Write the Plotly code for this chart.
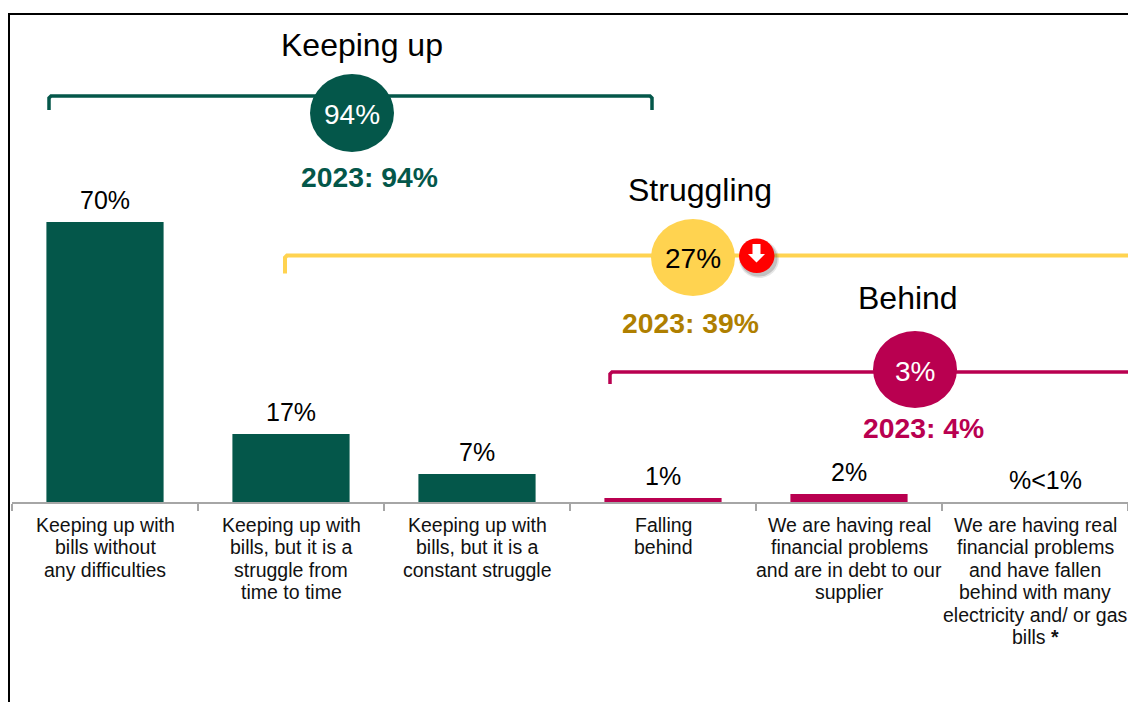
import plotly.graph_objects as go

W, H = 1128, 702
LEFT, BASE = 12, 502
FONT = "Liberation Sans"
GREEN, GOLD, MAGENTA = "#04574A", "#FFD350", "#B90050"
GOLD_TEXT = "#AF7F00"
GREY = "#A6A6A6"

categories = [
    "Keeping up with<br>bills without<br>any difficulties",
    "Keeping up with<br>bills, but it is a<br>struggle from<br>time to time",
    "Keeping up with<br>bills, but it is a<br>constant struggle",
    "Falling<br>behind",
    "We are having real<br>financial problems<br>and are in debt to our<br>supplier",
    "We are having real<br>financial problems<br>and have fallen<br>behind with many<br>electricity and/ or gas<br>bills <b>*</b>",
]
values = [70, 17, 7, 1, 2, 0]
value_labels = ["70%", "17%", "7%", "1%", "2%", "%<1%"]
bar_colors = [GREEN, GREEN, GREEN, MAGENTA, MAGENTA, MAGENTA]

group_names = ["Keeping up", "Struggling", "Behind"]
group_totals = ["94%", "27%", "3%"]
group_previous = ["2023: 94%", "2023: 39%", "2023: 4%"]


def px(x):
    return (x - LEFT) / (W - LEFT)


def py(y):
    return (BASE - y) / BASE


def note(text, x, y, size, color="black", bold=False):
    return dict(
        text=f"<b>{text}</b>" if bold else text,
        x=px(x), y=py(y), xref="paper", yref="paper",
        xanchor="center", yanchor="middle", showarrow=False,
        font=dict(family=FONT, size=size, color=color),
    )


def path(points, color, width):
    d = "M" + " L".join(f"{px(x)},{py(y)}" for x, y in points)
    return dict(type="path", path=d, xref="paper", yref="paper",
                line=dict(color=color, width=width))


def ellipse(x0, y0, x1, y1, color, opacity=1):
    return dict(type="circle", xref="paper", yref="paper",
                x0=px(x0), x1=px(x1), y0=py(y0), y1=py(y1),
                fillcolor=color, opacity=opacity, line=dict(width=0))


def bracket(x0, x1, y, drop, color, width, close_right=True):
    pts = [(x0, y + drop), (x0, y + 2), (x0 + 2, y), (x1 - 2 if close_right else x1, y)]
    if close_right:
        pts += [(x1, y + 2), (x1, y + drop)]
    return path(pts, color, width)


fig = go.Figure(go.Bar(
    x=list(range(len(categories))), y=values,
    marker=dict(color=bar_colors, line=dict(width=0)),
    width=0.63, hoverinfo="skip",
))

shapes = [
    path([(9, H), (9, 14), (W, 14)], "black", 2),
    bracket(49, 652, 96, 14, GREEN, 3.5),
    bracket(285, W, 255.5, 18, GOLD, 4, close_right=False),
    bracket(610, W, 372, 12, MAGENTA, 3.5, close_right=False),
    ellipse(310, 74, 394, 152, GREEN),
    ellipse(651, 219, 735, 296, GOLD),
    ellipse(873, 331, 957, 408, MAGENTA),
    # down-arrow badge with a soft drop shadow
    ellipse(739, 240, 779, 278, "#555555", 0.15),
    ellipse(740, 241, 777.5, 276.5, "#555555", 0.25),
    ellipse(739, 238.5, 774.5, 273, "#FF0000"),
    dict(type="path", xref="paper", yref="paper", fillcolor="white", line=dict(width=0),
         path="M" + " L".join(f"{px(x)},{py(y)}" for x, y in [
             (752.5, 244), (760.5, 244), (760.5, 254), (765, 254),
             (756.5, 262.5), (748, 254), (752.5, 254)]) + " Z"),
]

annotations = [
    note(group_names[0], 362, 45, 32),
    note(group_names[1], 699.5, 189.5, 32),
    note(group_names[2], 908, 298, 32),
    note(group_totals[0], 352, 114, 28, "white"),
    note(group_totals[1], 693, 258, 28),
    note(group_totals[2], 915, 371, 28, "white"),
    note(group_previous[0], 369.5, 176.5, 28.3, GREEN, True),
    note(group_previous[1], 690.5, 322.5, 28.3, GOLD_TEXT, True),
    note(group_previous[2], 923.5, 428, 28.3, MAGENTA, True),
]

# value labels sit a fixed distance above each bar; the last one is nudged right
label_nudge = [0, 0, 0, 0, 0, 10]
for i, (v, label, dx) in enumerate(zip(values, value_labels, label_nudge)):
    annotations.append(dict(
        text=label, x=i, y=v, xref="x", yref="y", yshift=22, xshift=dx,
        xanchor="center", yanchor="middle", showarrow=False,
        font=dict(family=FONT, size=25, color="black"),
    ))

# category labels are set line by line for a tighter leading than tick labels allow
for i, label in enumerate(categories):
    for j, line in enumerate(label.split("<br>")):
        annotations.append(dict(
            text=line, x=i, y=py(525 + j * 22.4), xref="x", yref="paper",
            xanchor="center", yanchor="middle", showarrow=False,
            font=dict(family=FONT, size=19.5, color="#111111"),
        ))

fig.update_layout(
    width=W, height=H, autosize=False,
    margin=dict(l=LEFT, r=0, t=0, b=H - BASE, pad=0),
    paper_bgcolor="white", plot_bgcolor="white",
    showlegend=False, shapes=shapes, annotations=annotations,
    xaxis=dict(
        type="category", range=[-0.5, 5.5], tickson="boundaries",
        ticks="outside", ticklen=7, tickwidth=1.5, tickcolor=GREY,
        showline=True, linecolor=GREY, linewidth=2,
        showticklabels=False, showgrid=False, zeroline=False, fixedrange=True,
    ),
    yaxis=dict(range=[0, BASE / 4], visible=False, showgrid=False,
               zeroline=False, fixedrange=True),
)

fig.write_html("out.html", config={"displayModeBar": False})
